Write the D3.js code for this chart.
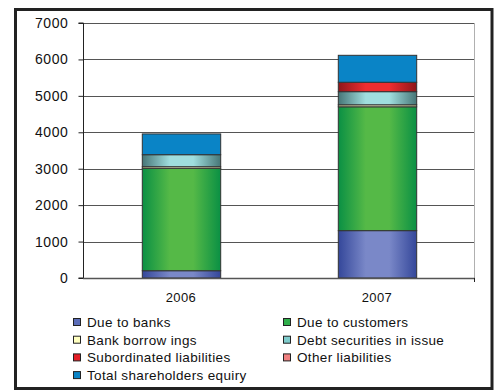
<!DOCTYPE html>
<html><head><meta charset="utf-8">
<script src="https://cdn.jsdelivr.net/npm/d3@7"></script>
<style>body{margin:0;background:#fff;}svg{display:block;font-family:"Liberation Sans",Arial,sans-serif;}</style>
</head><body><svg id="c" width="498" height="390"></svg>
<script>
const categories = ["2006", "2007"];
const seriesNames = ["Due to banks","Due to customers","Bank borrow ings","Debt securities in issue","Subordinated liabilities","Other liabilities","Total shareholders equiry"];
const dueToBanks = [200, 1300];
const dueToCustomers = [2810, 3400];
const bankBorrowings = [45, 55];
const debtSecurities = [330, 360];
const subordinated = [0, 258];
const otherLiabilities = [0, 0];
const shareholdersEquity = [570, 740];
const yTicks = [0,1000,2000,3000,4000,5000,6000,7000];

(function(){
const seriesValues = [dueToBanks, dueToCustomers, bankBorrowings, debtSecurities, subordinated, otherLiabilities, shareholdersEquity];
const colours = [
  ["#34479a","#7a88c8"],
  ["#0a9044","#55b947"],
  ["#d0d098","#ffffcc"],
  ["#467677","#a0dede"],
  ["#8e161a","#ee2d30"],
  ["#c86060","#f08a8a"],
  ["#0a84c6","#0a84c6"]
];
const legendFill = ["#5b6db8","#2fae4a","#ffffc0","#7fcccc","#e41e26","#f08080","#0a84c6"];

const svg = d3.select("#c");
const defs = svg.append("defs");
colours.forEach((c,i)=>{
  const g = defs.append("linearGradient").attr("id","g"+i).attr("x1","0").attr("x2","1").attr("y1","0").attr("y2","0");
  g.append("stop").attr("offset","0").attr("stop-color",c[0]);
  g.append("stop").attr("offset","0.35").attr("stop-color",c[1]);
  g.append("stop").attr("offset","0.65").attr("stop-color",c[1]);
  g.append("stop").attr("offset","1").attr("stop-color",c[0]);
});

svg.append("rect").attr("x",15.5).attr("y",9.5).attr("width",476.5).attr("height",379)
  .attr("fill","none").attr("stroke","#222").attr("stroke-width",3);

const pL = 83, pR = 475, pT = 23, pB = 278;
const x = d3.scaleBand().domain(categories).range([pL,pR]).paddingInner(0.6).paddingOuter(0.3);
const y = d3.scaleLinear().domain([0,7000]).range([pB,pT]);

svg.append("rect").attr("x",pL+0.5).attr("y",pT+0.5).attr("width",pR-pL-1).attr("height",pB-pT)
  .attr("fill","none").attr("stroke","#b0b0b0");

svg.append("g").selectAll("line").data(yTicks.filter(d=>d>0)).join("line")
  .attr("x1",pL).attr("x2",pR-1).attr("y1",d=>Math.round(y(d))+0.5).attr("y2",d=>Math.round(y(d))+0.5)
  .attr("stroke","#555");

const rows = categories.map((c,i)=>{const o={cat:c}; seriesNames.forEach((s,j)=>o[s]=seriesValues[j][i]); return o;});
const stack = d3.stack().keys(seriesNames)(rows);
stack.forEach((layer,i)=>{
  svg.append("g").selectAll("rect").data(layer.filter(d=>d[1]-d[0]>0)).join("rect")
    .attr("x",d=>x(d.data.cat)+0.5)
    .attr("width",x.bandwidth())
    .attr("y",d=>y(d[1]))
    .attr("height",d=>y(d[0])-y(d[1]))
    .attr("fill","url(#g"+i+")")
    .attr("stroke","#333").attr("stroke-width",1);
});

const yAxis = d3.axisLeft(y).tickValues(yTicks).tickSize(5).tickPadding(10).tickFormat(d3.format("d"));
const ga = svg.append("g").attr("transform",`translate(${pL+0.5},0)`).call(yAxis);
ga.select(".domain").attr("stroke","#222").attr("d",`M-5,${pT}H0V${pB}H-5`);
ga.selectAll(".tick line").attr("stroke","#222");
ga.selectAll("text").attr("font-size","14px").attr("letter-spacing","0.6px").attr("fill","#111").attr("font-family","Liberation Sans, Arial, sans-serif");

const xAxis = d3.axisBottom(x).tickSize(0).tickPadding(14);
const gx = svg.append("g").attr("transform",`translate(0,${pB+0.5})`).call(xAxis);
gx.select(".domain").attr("stroke","#555").attr("stroke-width",1.5).attr("d",`M${pL},0H${pR}`);
gx.selectAll("text").attr("font-size","13px").attr("letter-spacing","0.4px").attr("fill","#111").attr("font-family","Liberation Sans, Arial, sans-serif");
svg.append("line").attr("x1",pR-0.5).attr("x2",pR-0.5).attr("y1",pB).attr("y2",pB+4).attr("stroke","#222");

const legendPos = seriesNames.map((s,i)=>({s, i, col: i%2, row: Math.floor(i/2)}));
const lg = svg.append("g").selectAll("g").data(legendPos).join("g")
  .attr("transform",d=>`translate(${d.col?283:73},${322+d.row*17.7})`);
lg.append("rect").attr("x",0.5).attr("y",-3.5).attr("width",7).attr("height",7)
  .attr("fill",d=>legendFill[d.i]).attr("stroke","#222");
lg.append("text").attr("x",14).attr("y",5).attr("font-size","13.5px").attr("letter-spacing","0.35px").attr("fill","#111").text(d=>d.s);
})();
</script></body></html>
